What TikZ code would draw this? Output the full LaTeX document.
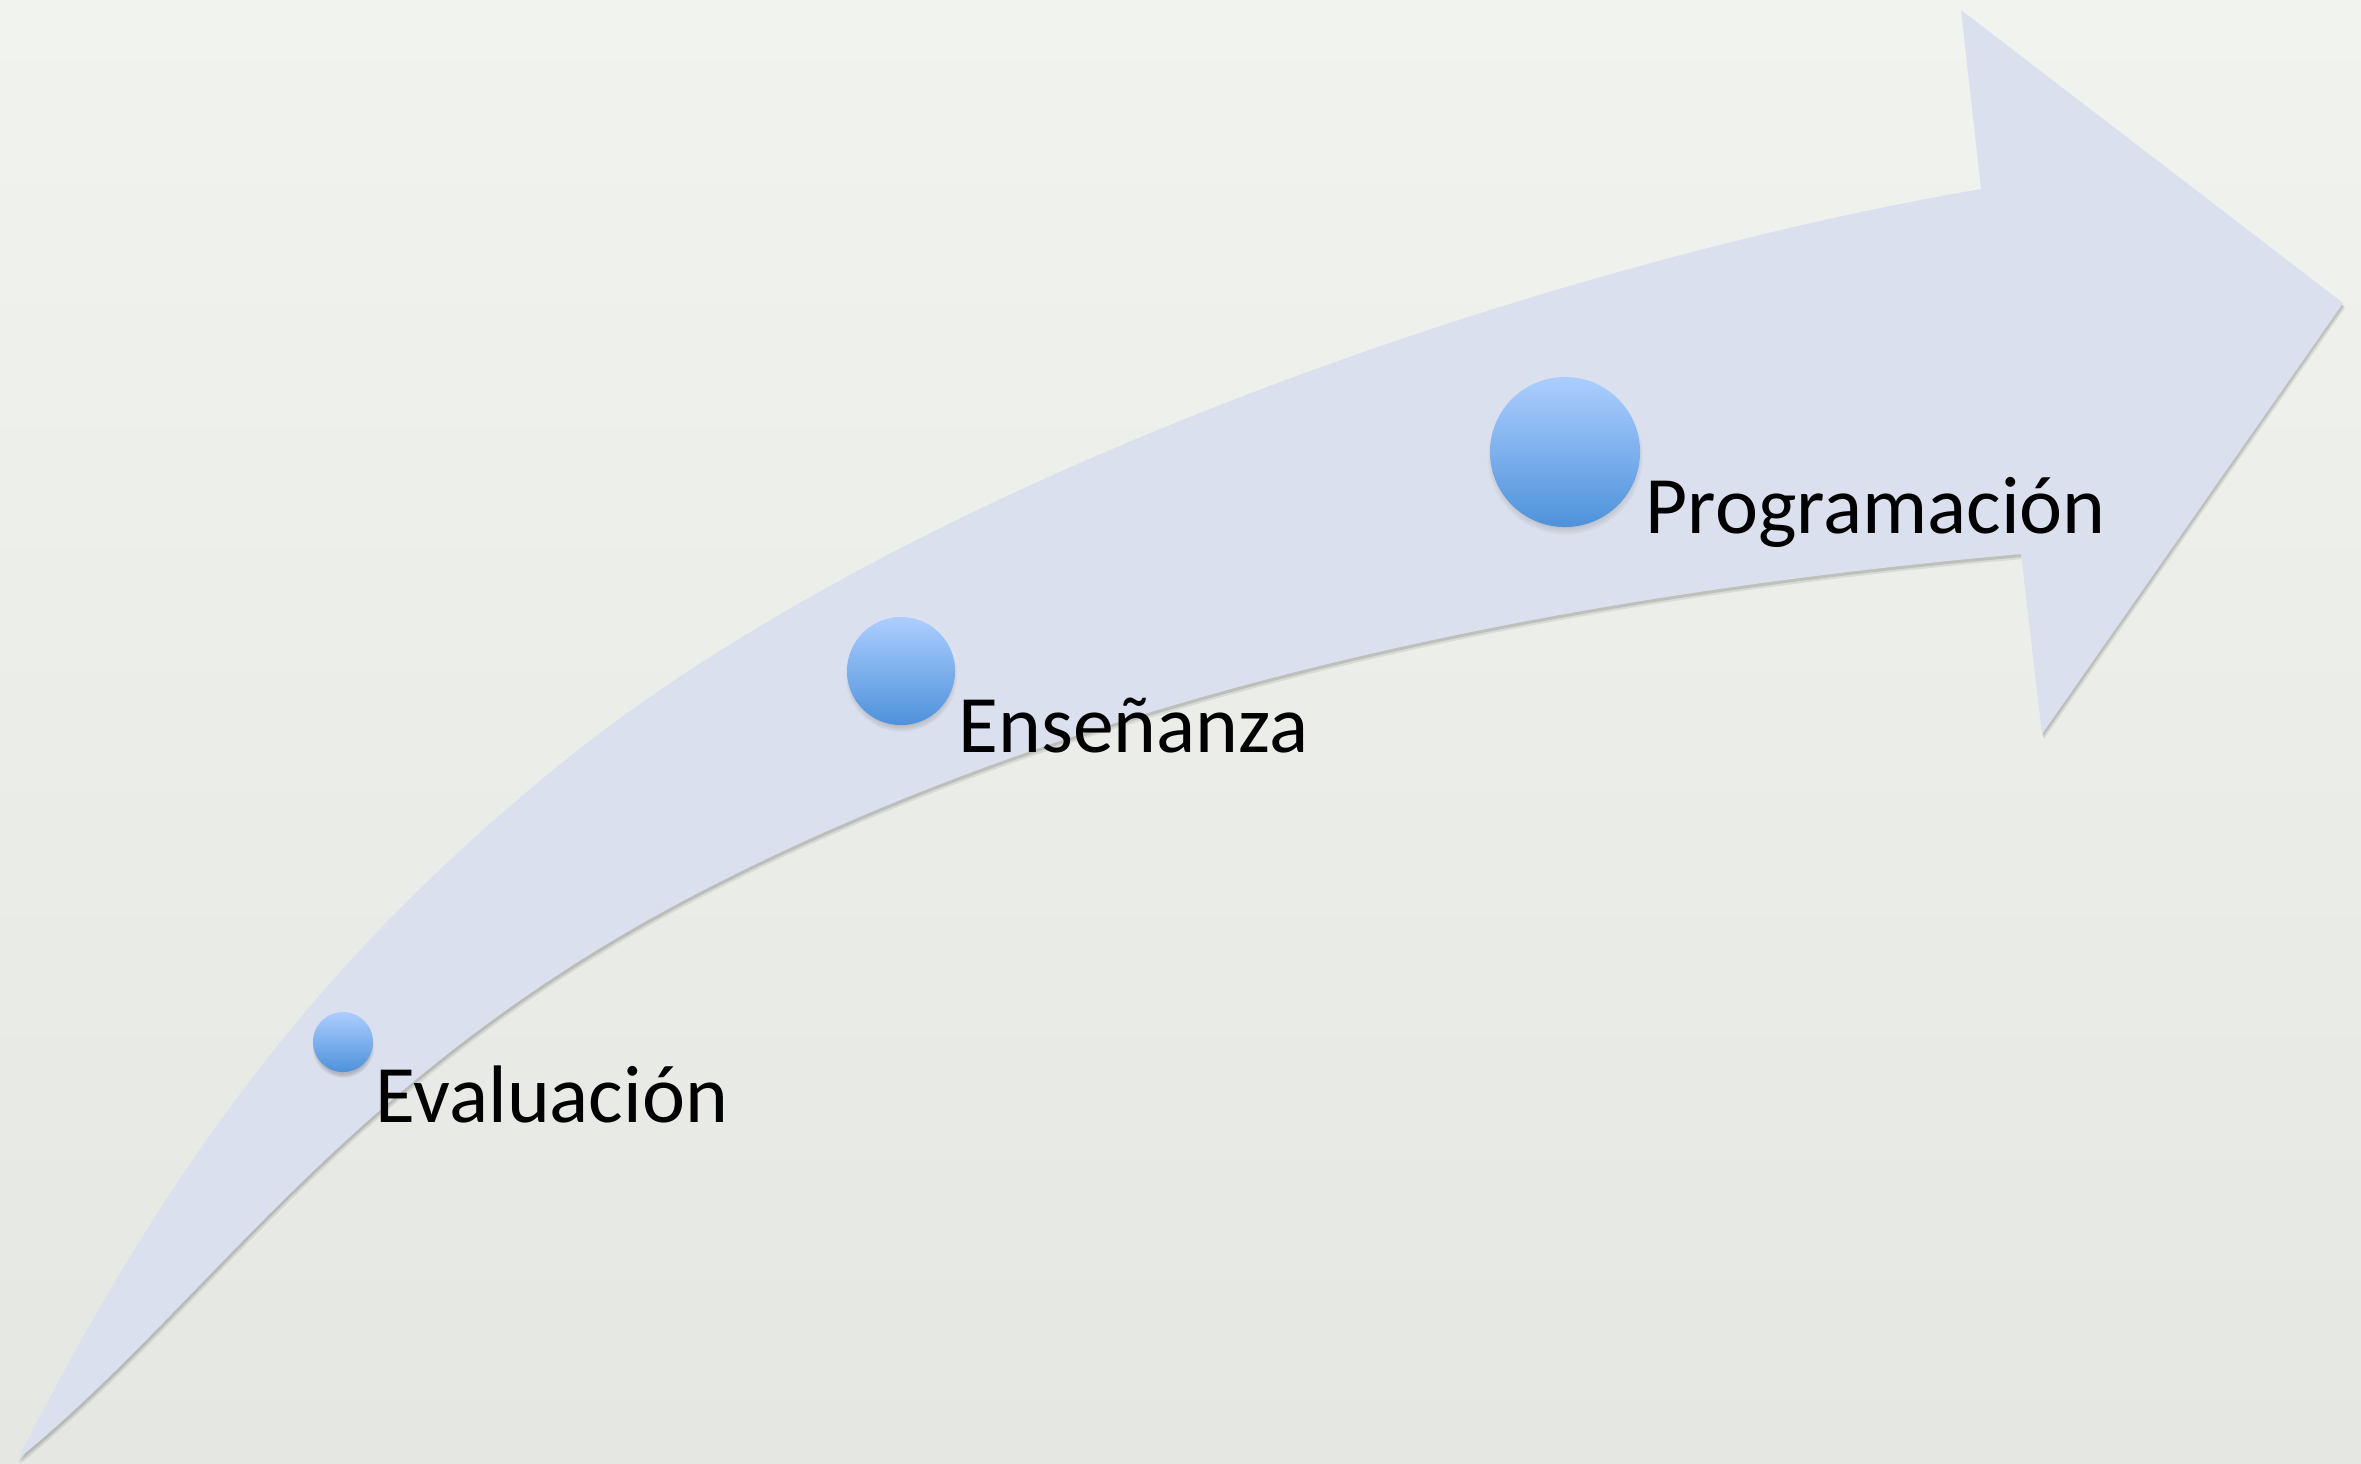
\documentclass[tikz,border=0pt]{standalone}
\usepackage{fontspec}
\setmainfont{Carlito}
\usetikzlibrary{shadows}
\definecolor{bgtop}{RGB}{241,243,239}
\definecolor{bgbot}{RGB}{229,231,227}
\definecolor{arrowfill}{RGB}{219,224,238}
\definecolor{balltop}{RGB}{172,206,255}
\definecolor{ballbot}{RGB}{78,146,218}
\newcommand\myarrowpath{(18,1459) .. controls (176,1147) and (333,949) .. (558,766) .. controls (907,482) and (1538,265) .. (1981,189) -- (1961,10) -- (2343,303) -- (2042,734) -- (2021,554) .. controls (1573,594) and (1100,685) .. (700,892) .. controls (345,1076) and (212,1301) .. (18,1459) -- cycle}
\begin{document}
\begin{tikzpicture}[x=0.01cm,y=-0.01cm,
  ball/.style={circle, inner sep=0pt, draw=none, top color=balltop, bottom color=ballbot,
    circular drop shadow={shadow xshift=0pt, shadow yshift=-1.3pt, shadow scale=1.04, opacity=0.45}},
  lbl/.style={anchor=base west, inner sep=0pt, font=\fontsize{23.2pt}{27pt}\selectfont, text=black}]
\useasboundingbox (0,0) rectangle (2361,1463);
\shade[top color=bgtop, bottom color=bgbot] (0,0) rectangle (2361,1463);
% arrow shadow
\begin{scope}[shift={(2,5)}]
  \fill[black, opacity=0.08] \myarrowpath;
\end{scope}
\begin{scope}[shift={(1,3)}]
  \fill[black, opacity=0.12] \myarrowpath;
\end{scope}
% arrow body
\fill[arrowfill] \myarrowpath;
% circles
\node[ball, minimum size=0.60cm] (c1) at (343,1042) {};
\node[ball, minimum size=1.08cm] (c2) at (901,671) {};
\node[ball, minimum size=1.50cm] (c3) at (1565,452) {};
% labels
\node[lbl] (t1) at (375,1122) {Evaluación};
\node[lbl] (t2) at (958,752) {Enseñanza};
\node[lbl] (t3) at (1645,533) {Programación};
\end{tikzpicture}
\end{document}
